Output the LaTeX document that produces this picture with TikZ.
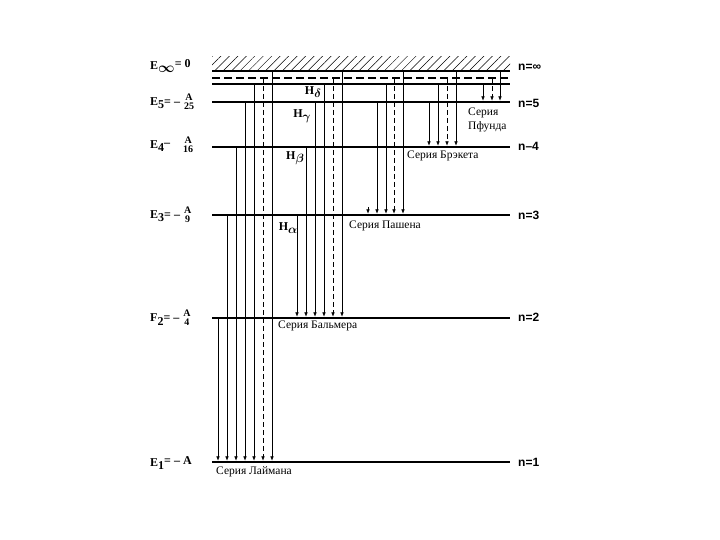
\documentclass[tikz,border=0pt]{standalone}
\usepackage{fontspec}
\usepackage{amsmath}
\setmainfont{Liberation Serif}
\setsansfont{Liberation Sans}
\usetikzlibrary{arrows.meta,patterns.meta}

\newcommand{\lowsub}[1]{\raisebox{-3.5pt}{#1}}
\newcommand{\efrac}[2]{{\fontsize{10}{10}\selectfont\renewcommand{\arraystretch}{0.95}\begin{tabular}{@{}c@{}}#1\\#2\end{tabular}}}

\tikzset{
  lvl/.style={line width=2.6pt},
  trans/.style={line width=.7pt,shorten >=1.2pt,-{Latex[length=4.5pt,width=3.6pt]}},
  dtrans/.style={trans,dash pattern=on 5pt off 3pt},
  serlabel/.style={font=\fontsize{11.5}{14}\selectfont,anchor=west,inner sep=0pt,align=left},
  nlabel/.style={font=\sffamily\bfseries\fontsize{12}{14}\selectfont,anchor=west,inner sep=0pt},
  elabel/.style={font=\bfseries\fontsize{12}{14}\selectfont,anchor=west,inner sep=0pt},
  hlabel/.style={font=\bfseries\fontsize{12}{14}\selectfont,inner sep=0pt},
}

\begin{document}
\begin{tikzpicture}[x=1pt,y=-1pt]
  \useasboundingbox (0,0) rectangle (720,540);

  % energy levels
  \coordinate (ninf) at (212,71);
  \coordinate (nd) at (212,78);
  \coordinate (n6) at (212,84);
  \coordinate (n5) at (212,102);
  \coordinate (n4) at (212,147);
  \coordinate (n3) at (212,215);
  \coordinate (n2) at (212,318);
  \coordinate (n1) at (212,462);

  \fill[pattern={Lines[angle=45,distance=6pt,line width=.5pt]}] (212,57) rectangle (510,71);
  \draw[lvl] (ninf) -- ++(298,0);
  \draw[line width=2pt,dash pattern=on 8pt off 4pt] (nd) -- ++(298,0);
  \draw[line width=2.2pt] (n6) -- ++(298,0);
  \draw[lvl] (n5) -- ++(298,0);
  \draw[line width=1.6pt] (n4) -- ++(298,0);
  \draw[lvl] (n3) -- ++(298,0);
  \draw[lvl] (n2) -- ++(298,0);
  \draw[lvl] (n1) -- ++(298,0);

  % Lyman
  \foreach \x/\f in {218/n2,227/n3,236/n4,245/n5,254/n6,272/ninf}
    \draw[trans] (\x,0 |- \f) -- (\x,0 |- n1);
  \draw[dtrans] (263,0 |- nd) -- (263,0 |- n1);
  % Balmer
  \foreach \x/\f in {297/n3,306/n4,315/n5,324/n6,342/ninf}
    \draw[trans] (\x,0 |- \f) -- (\x,0 |- n2);
  \draw[dtrans] (333,0 |- nd) -- (333,0 |- n2);
  % Paschen
  \foreach \x/\f in {377/n5,386/n6,403/ninf}
    \draw[trans] (\x,0 |- \f) -- (\x,0 |- n3);
  \draw[dtrans] (394,0 |- nd) -- (394,0 |- n3);
  \coordinate (stub) at (368,207);
  \draw[trans] (stub) -- (stub |- n3);
  % Brackett
  \foreach \x/\f in {429/n5,438/n6,456/ninf}
    \draw[trans] (\x,0 |- \f) -- (\x,0 |- n4);
  \draw[dtrans] (447,0 |- nd) -- (447,0 |- n4);
  % Pfund
  \foreach \x/\f in {483/n6,500/ninf}
    \draw[trans] (\x,0 |- \f) -- (\x,0 |- n5);
  \draw[dtrans] (492,0 |- nd) -- (492,0 |- n5);

  % left labels
  \node[elabel] (Einf) at (150,66) {E\lowsub{\Large$\boldsymbol{\infty}$}\raisebox{2pt}{= 0}};
  \node[elabel] (E5) at (150,103) {E\lowsub{5}= --\hspace{4pt}\efrac{A}{25}};
  \node[elabel] (E4) at (150,146) {E\lowsub{4}\raisebox{2pt}{--}\hspace{13pt}\efrac{A}{16}};
  \node[elabel] (E3) at (150,216) {E\lowsub{3}= --\hspace{4pt}\efrac{A}{9}};
  \node[elabel] (F2) at (150,319) {F\lowsub{2}= --\hspace{4pt}\efrac{A}{4}};
  \node[elabel] (E1) at (150,463) {E\lowsub{1}\raisebox{2pt}{= -- A}};

  % right labels
  \node[nlabel] (Rinf) at (518,67) {n=∞};
  \node[nlabel] (R5) at (518,103) {n=5};
  \node[nlabel] (R4) at (518,146) {n--4};
  \node[nlabel] (R3) at (518,215) {n=3};
  \node[nlabel] (R2) at (518,317) {n=2};
  \node[nlabel] (R1) at (518,462) {n=1};

  % lines of the Balmer series
  \node[hlabel] (Hd) at (313,92) {H\lowsub{$\boldsymbol{\delta}$}};
  \node[hlabel] (Hg) at (302,116) {H\lowsub{$\boldsymbol{\gamma}$}};
  \node[hlabel] (Hb) at (295,158) {H\lowsub{$\boldsymbol{\beta}$}};
  \node[hlabel] (Ha) at (288,228) {H\lowsub{$\boldsymbol{\alpha}$}};

  % series
  \node[serlabel] (ly) at (216,472) {Серия Лаймана};
  \node[serlabel] (ba) at (278,326) {Серия Бальмера};
  \node[serlabel] (pa) at (349,226) {Серия Пашена};
  \node[serlabel] (br) at (407,156) {Серия Брэкета};
  \node[serlabel] (pf) at (468,120) {Серия\\Пфунда};
\end{tikzpicture}
\end{document}
